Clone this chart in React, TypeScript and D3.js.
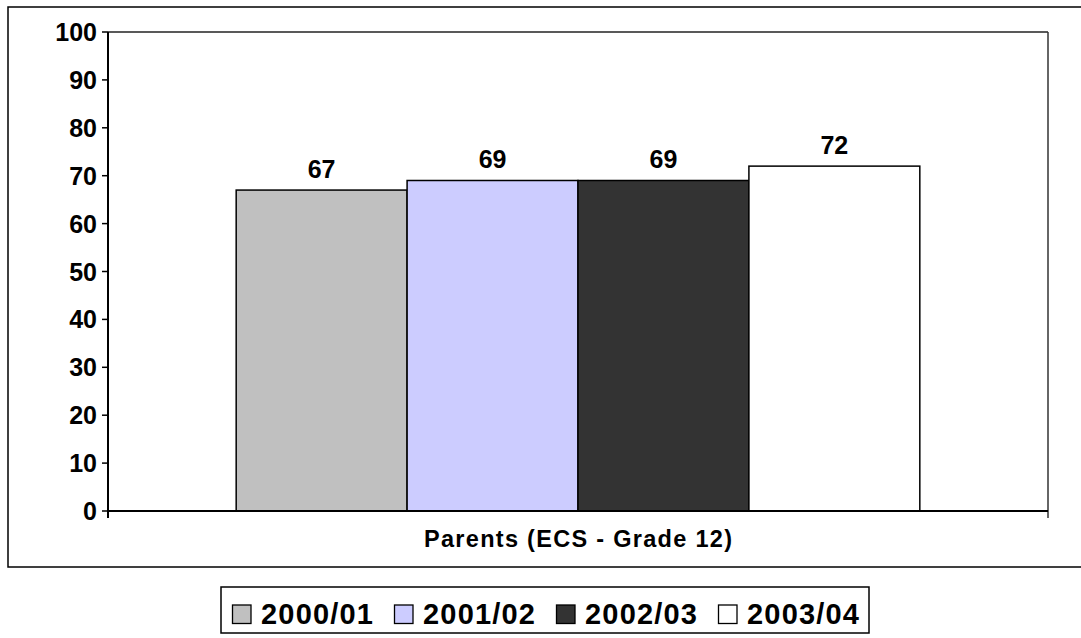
import React from 'react';
import * as d3 from 'd3';

// Chart data
const categories = ['Parents (ECS - Grade 12)'];
const seriesNames = ['2000/01', '2001/02', '2002/03', '2003/04'];
const seriesValues = [67, 69, 69, 72];
const seriesColors = ['#C0C0C0', '#CCCCFF', '#333333', '#FFFFFF'];
const yTicks = [0, 10, 20, 30, 40, 50, 60, 70, 80, 90, 100];

const W = 1081;
const H = 638;
const plot = { left: 108, right: 1048, top: 32, bottom: 511 };
const font = 'Arial, "Liberation Sans", sans-serif';

const App = () => {
  // Category band, then bars inside with an Excel-like 150% gap
  const x0 = d3.scaleBand().domain(categories).range([plot.left, plot.right]);
  const barW = x0.bandwidth() / (seriesNames.length + 1.5);
  const groupW = barW * seriesNames.length;
  const x1 = d3.scaleBand().domain(seriesNames).range([0, groupW]);
  const y = d3.scaleLinear().domain([0, 100]).range([plot.bottom, plot.top]);

  const legendX = d3.scaleBand().domain(seriesNames).range([232, 232 + 162 * seriesNames.length]);

  return (
    <svg width={W} height={H} style={{ position: 'absolute', left: 0, top: 0, background: '#fff' }}>
      {/* outer chart border */}
      <rect x={8} y={7} width={1100} height={560} fill="#fff" stroke="#000" strokeWidth={1.5} />

      {/* plot frame */}
      <line x1={plot.left} x2={plot.right} y1={plot.top} y2={plot.top} stroke="#222" strokeWidth={1.3} />
      <line x1={plot.right} x2={plot.right} y1={plot.top} y2={plot.bottom + 7} stroke="#333" strokeWidth={1.5} />

      {/* bars */}
      {categories.map(cat => {
        const gx = (x0(cat) ?? 0) + (x0.bandwidth() - groupW) / 2;
        return (
          <g key={cat}>
            {seriesNames.map((s, i) => (
              <g key={s}>
                <rect
                  x={gx + (x1(s) ?? 0)}
                  y={y(seriesValues[i])}
                  width={x1.bandwidth()}
                  height={y(0) - y(seriesValues[i])}
                  fill={seriesColors[i]}
                  stroke="#000"
                  strokeWidth={1.5}
                />
                <text
                  x={gx + (x1(s) ?? 0) + x1.bandwidth() / 2}
                  y={y(seriesValues[i]) - 12}
                  textAnchor="middle"
                  fontFamily={font}
                  fontWeight="bold"
                  fontSize={25}
                >
                  {seriesValues[i]}
                </text>
              </g>
            ))}
            <text
              x={(x0(cat) ?? 0) + x0.bandwidth() / 2}
              y={547}
              textAnchor="middle"
              fontFamily={font}
              fontWeight="bold"
              fontSize={23.5}
              textLength={308}
              lengthAdjust="spacing"
            >
              {cat}
            </text>
          </g>
        );
      })}

      {/* y axis */}
      <line x1={plot.left} x2={plot.left} y1={plot.top} y2={plot.bottom + 7} stroke="#000" strokeWidth={2} />
      {yTicks.map(t => (
        <g key={t}>
          <line x1={plot.left - 6} x2={plot.left} y1={y(t)} y2={y(t)} stroke="#000" strokeWidth={1.5} />
          <text
            x={97}
            y={y(t)}
            dy="0.36em"
            textAnchor="end"
            fontFamily={font}
            fontWeight="bold"
            fontSize={25}
          >
            {t}
          </text>
        </g>
      ))}

      {/* x axis */}
      <line x1={plot.left} x2={plot.right} y1={plot.bottom} y2={plot.bottom} stroke="#000" strokeWidth={2} />

      {/* legend */}
      <rect x={221} y={587} width={648} height={46} fill="#fff" stroke="#000" strokeWidth={1.5} />
      {seriesNames.map((s, i) => (
        <g key={s} transform={`translate(${legendX(s)},0)`}>
          <rect x={0.5} y={605} width={18.5} height={18.5} fill={seriesColors[i]} stroke="#000" strokeWidth={1.3} />
          <text
            x={29}
            y={624}
            fontFamily={font}
            fontWeight="bold"
            fontSize={29}
            textLength={112}
            lengthAdjust="spacing"
          >
            {s}
          </text>
        </g>
      ))}
    </svg>
  );
};

export default App;
